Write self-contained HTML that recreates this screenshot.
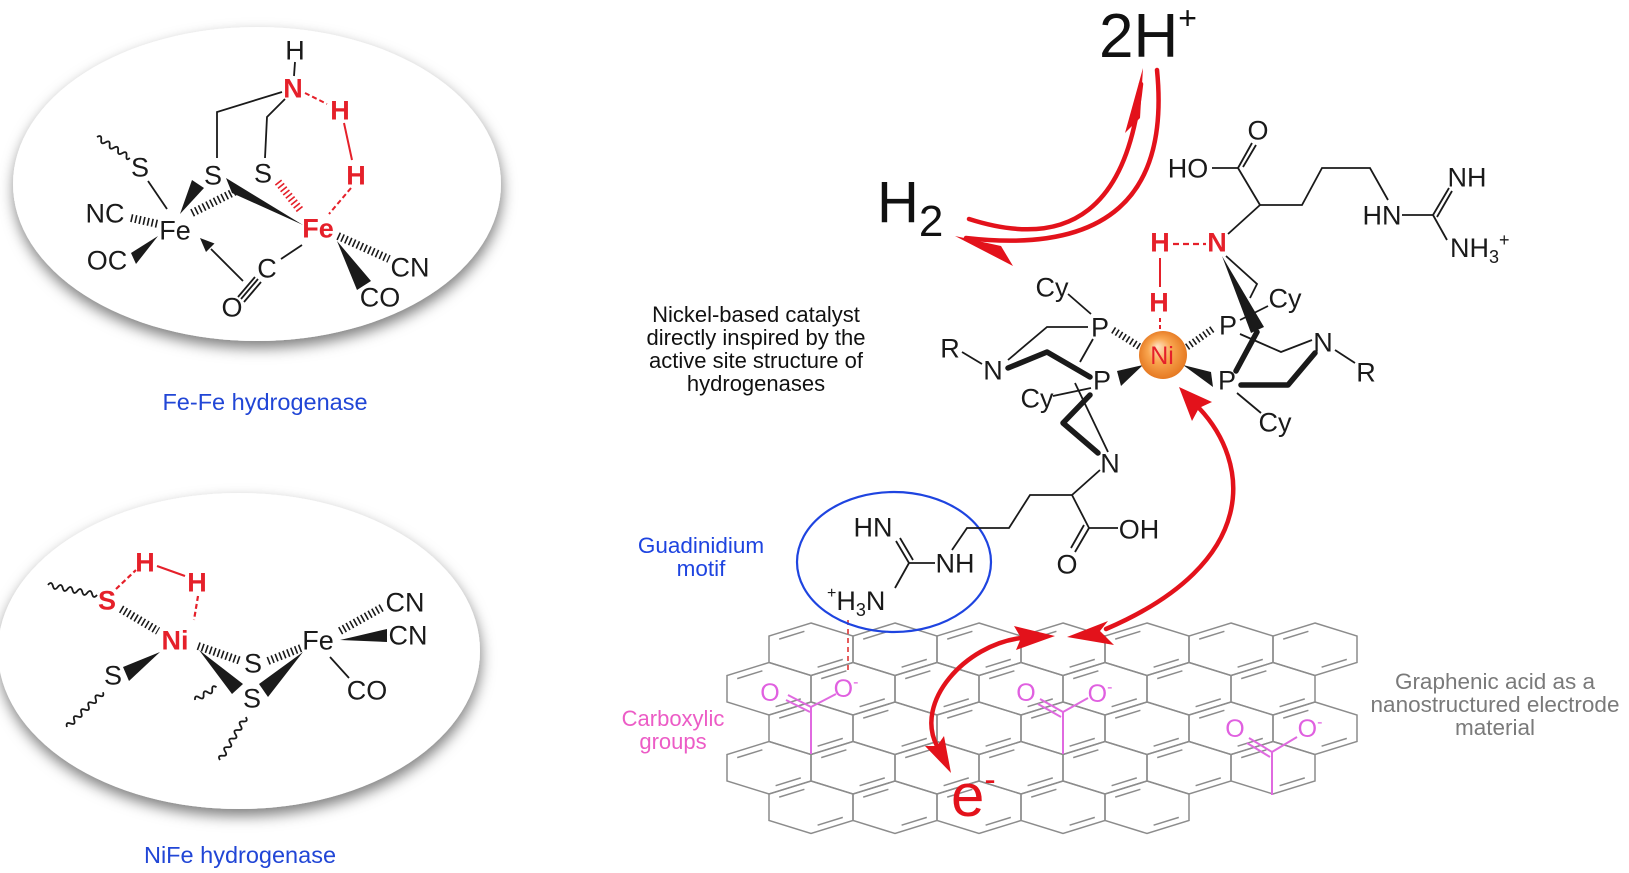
<!DOCTYPE html>
<html><head><meta charset="utf-8">
<style>
html,body{margin:0;padding:0;background:#fff;}
svg{display:block;}
text{font-family:"Liberation Sans",Arial,Helvetica,sans-serif;}
</style></head><body>
<svg width="1629" height="873" viewBox="0 0 1629 873" xmlns="http://www.w3.org/2000/svg">
<defs>
<filter id="sh" x="-15%" y="-15%" width="130%" height="140%">
 <feDropShadow dx="1" dy="7" stdDeviation="7" flood-color="#000" flood-opacity="0.5"/>
</filter>
<radialGradient id="ni" cx="50%" cy="50%" r="55%" fx="38%" fy="32%">
 <stop offset="0" stop-color="#ffe3c4"/>
 <stop offset="0.45" stop-color="#f9a650"/>
 <stop offset="1" stop-color="#e3731c"/>
</radialGradient>
<g id="hx">
 <path d="M0,0 L42,13 L42,39.5 L0,52.5 L-42,39.5 L-42,13 Z"/>
 <path d="M-31.8,16.1 L-6.6,8.3 M6.6,44.2 L31.8,36.4"/>
</g>
</defs>

<!-- Ellipses -->
<ellipse cx="257" cy="184" rx="244" ry="157" fill="#fff" filter="url(#sh)"/>
<ellipse cx="239" cy="651" rx="241" ry="158" fill="#fff" filter="url(#sh)"/>

<!-- ================= Fe-Fe hydrogenase ================= -->
<g stroke="#1a1a1a" stroke-width="1.8" fill="none">
 <line x1="295" y1="62" x2="294" y2="76"/>
 <polyline points="282,92 217,112 217,158"/>
 <polyline points="285,99 267,117 265,158"/>
 <line x1="148" y1="181" x2="167" y2="209"/>
 <line x1="302" y1="245" x2="281" y2="259"/>
 <line x1="243" y1="281" x2="211" y2="249"/>
 <line x1="258" y1="279" x2="241" y2="299"/>
 <line x1="261" y1="282" x2="244" y2="302"/>
 <line x1="255" y1="277" x2="238" y2="297"/>
 <path d="M0,0 q2.5,-5 5,0 t5,0 t5,0 t5,0 t5,0 t5,0 t5,0 t4,0" transform="translate(97,137) rotate(32.5)"/>
 <g stroke-width="8" stroke-dasharray="1.6 2.6">
  <line x1="131" y1="218" x2="158" y2="224"/>
  <line x1="192" y1="213" x2="236" y2="191"/>
  <line x1="338" y1="236" x2="389" y2="259"/>
 </g>
 <line x1="278" y1="182" x2="301" y2="211" stroke="#e5202a" stroke-width="8" stroke-dasharray="1.6 2.6"/>
</g>
<g fill="#1a1a1a">
 <polygon points="200,238 214.5,243.5 206,252"/>
 <polygon points="158,236 131,253 136,264"/>
 <polygon points="180,214 192,180 204,188"/>
 <polygon points="226,178 232,193 303,225"/>
 <polygon points="337,241 357,290 371,281"/>
</g>
<g stroke="#e5202a" stroke-width="2" fill="none">
 <line x1="305" y1="93" x2="327" y2="104" stroke-dasharray="5 3"/>
 <line x1="344" y1="123" x2="352" y2="160"/>
 <line x1="351" y1="188" x2="329" y2="214" stroke-dasharray="5 3"/>
</g>
<g font-size="27" text-anchor="middle" fill="#1a1a1a">
 <text x="295" y="59.5">H</text>
 <text x="140" y="176.5">S</text>
 <text x="213" y="184.5">S</text>
 <text x="263" y="182.5">S</text>
 <text x="175" y="239.5">Fe</text>
 <text x="105" y="222.5">NC</text>
 <text x="107" y="269.5">OC</text>
 <text x="267" y="277.5">C</text>
 <text x="232" y="316.5">O</text>
 <text x="410" y="276.5">CN</text>
 <text x="380" y="306.5">CO</text>
</g>
<g font-size="27" text-anchor="middle" fill="#e5202a" font-weight="bold">
 <text x="293" y="97.5">N</text>
 <text x="340" y="119.5">H</text>
 <text x="356" y="184.5">H</text>
 <text x="318" y="237.5">Fe</text>
</g>
<text x="265" y="410" font-size="23.5" text-anchor="middle" fill="#2146d6">Fe-Fe hydrogenase</text>

<!-- ================= NiFe hydrogenase ================= -->
<g stroke="#1a1a1a" stroke-width="1.8" fill="none">
 <path d="M0,0 q2.5,-5 5,0 t5,0 t5,0 t5,0 t5,0 t5,0 t5,0 t5,0 t5,0 t5,0" transform="translate(48,585) rotate(11.5)"/>
 <path d="M0,0 q2.5,-5 5,0 t5,0 t5,0 t5,0 t5,0 t5,0 t5,0 t5,0 t5,0 t5,0" transform="translate(67,727) rotate(-44)"/>
 <path d="M0,0 q2.5,-5 5,0 t5,0 t5,0 t5,0 t5,0" transform="translate(195,700) rotate(-30.6)"/>
 <path d="M0,0 q2.5,-5 5,0 t5,0 t5,0 t5,0 t5,0 t5,0 t5,0 t5,0 t5,0 t5,0" transform="translate(220,760) rotate(-59)"/>
 <line x1="330" y1="657" x2="349" y2="678"/>
 <g stroke-width="8" stroke-dasharray="1.6 2.6">
  <line x1="121" y1="609" x2="158" y2="631"/>
  <line x1="198" y1="646" x2="241" y2="661"/>
  <line x1="268" y1="661" x2="301" y2="648"/>
  <line x1="340" y1="631" x2="383" y2="607"/>
 </g>
</g>
<g fill="#1a1a1a">
 <polygon points="123,667 129,681 160,652"/>
 <polygon points="199,650 232,694 243,684"/>
 <polygon points="259,684 268,697 303,652"/>
 <polygon points="340,640 387,629 387,642"/>
</g>
<g stroke="#e5202a" stroke-width="2.2" fill="none">
 <line x1="157" y1="566" x2="185" y2="576"/>
 <line x1="116" y1="589" x2="136" y2="570" stroke-dasharray="5 3"/>
 <line x1="198" y1="596" x2="194" y2="620" stroke-dasharray="5 3"/>
</g>
<g font-size="27" text-anchor="middle" fill="#1a1a1a">
 <text x="113" y="684.5">S</text>
 <text x="253" y="672.5">S</text>
 <text x="252" y="707.5">S</text>
 <text x="318" y="649.5">Fe</text>
 <text x="405" y="611.5">CN</text>
 <text x="408" y="644.5">CN</text>
 <text x="367" y="699.5">CO</text>
</g>
<g font-size="27" text-anchor="middle" fill="#e5202a" font-weight="bold">
 <text x="145" y="571.5">H</text>
 <text x="197" y="591.5">H</text>
 <text x="107" y="609.5">S</text>
 <text x="175" y="649.5">Ni</text>
</g>
<text x="240" y="863" font-size="23.5" text-anchor="middle" fill="#2146d6">NiFe hydrogenase</text>

<!-- ================= Graphene ================= -->
<g stroke="#8c8c8c" stroke-width="1.5" fill="none">
 <use href="#hx" x="811" y="623"/><use href="#hx" x="895" y="623"/><use href="#hx" x="979" y="623"/><use href="#hx" x="1063" y="623"/><use href="#hx" x="1147" y="623"/><use href="#hx" x="1231" y="623"/><use href="#hx" x="1315" y="623"/>
 <use href="#hx" x="769" y="662.5"/><use href="#hx" x="853" y="662.5"/><use href="#hx" x="937" y="662.5"/><use href="#hx" x="1021" y="662.5"/><use href="#hx" x="1105" y="662.5"/><use href="#hx" x="1189" y="662.5"/><use href="#hx" x="1273" y="662.5"/>
 <use href="#hx" x="811" y="702"/><use href="#hx" x="895" y="702"/><use href="#hx" x="979" y="702"/><use href="#hx" x="1063" y="702"/><use href="#hx" x="1147" y="702"/><use href="#hx" x="1231" y="702"/><use href="#hx" x="1315" y="702"/>
 <use href="#hx" x="769" y="741.5"/><use href="#hx" x="853" y="741.5"/><use href="#hx" x="937" y="741.5"/><use href="#hx" x="1021" y="741.5"/><use href="#hx" x="1105" y="741.5"/><use href="#hx" x="1189" y="741.5"/><use href="#hx" x="1273" y="741.5"/>
 <use href="#hx" x="811" y="781"/><use href="#hx" x="895" y="781"/><use href="#hx" x="979" y="781"/><use href="#hx" x="1063" y="781"/><use href="#hx" x="1147" y="781"/>
</g>

<!-- Carboxylates -->
<g stroke="#e06ae0" stroke-width="2" fill="none">
 <line x1="811" y1="707" x2="811" y2="754"/>
 <line x1="811" y1="707" x2="836" y2="694"/>
 <line x1="811" y1="707" x2="788" y2="695"/>
 <line x1="810" y1="712" x2="786" y2="700"/>
 <line x1="1063" y1="712" x2="1063" y2="754"/>
 <line x1="1063" y1="712" x2="1088" y2="698"/>
 <line x1="1063" y1="712" x2="1040" y2="699"/>
 <line x1="1061" y1="717" x2="1038" y2="704"/>
 <line x1="1272" y1="752" x2="1272" y2="795"/>
 <line x1="1272" y1="752" x2="1297" y2="737"/>
 <line x1="1272" y1="752" x2="1249" y2="738"/>
 <line x1="1270" y1="757" x2="1247" y2="743"/>
</g>
<g font-size="25" text-anchor="middle" fill="#e060e0">
 <text x="770" y="701">O</text>
 <text x="846" y="697">O<tspan font-size="16" dy="-10">-</tspan></text>
 <text x="1026" y="701">O</text>
 <text x="1100" y="702">O<tspan font-size="16" dy="-10">-</tspan></text>
 <text x="1235" y="737">O</text>
 <text x="1310" y="737">O<tspan font-size="16" dy="-10">-</tspan></text>
</g>
<line x1="848" y1="620" x2="848" y2="672" stroke="#e34a4a" stroke-width="1.8" stroke-dasharray="5 4"/>

<!-- Blue circle -->
<ellipse cx="894" cy="562" rx="97" ry="70" fill="none" stroke="#1e44e0" stroke-width="2.2"/>

<!-- ================= Catalyst ================= -->
<g stroke="#1a1a1a" stroke-width="1.8" fill="none">
 <line x1="1228" y1="234" x2="1260" y2="205"/>
 <line x1="1260" y1="205" x2="1238" y2="168"/>
 <line x1="1212" y1="168" x2="1238" y2="168"/>
 <line x1="1238" y1="168" x2="1252" y2="143"/>
 <line x1="1243" y1="167" x2="1256" y2="145"/>
 <polyline points="1260,205 1302,205 1322,168 1370,168 1388,200"/>
 <line x1="1402" y1="215" x2="1433" y2="215"/>
 <line x1="1433" y1="215" x2="1449" y2="188"/>
 <line x1="1437" y1="217" x2="1452" y2="191"/>
 <line x1="1433" y1="215" x2="1447" y2="240"/>
 <line x1="1068" y1="294" x2="1091" y2="314"/>
 <polyline points="1088,327 1047,327 1008,360"/>
 <line x1="1093" y1="339" x2="1080" y2="362"/>
 <line x1="1075" y1="383" x2="1108" y2="452"/>
 <line x1="962" y1="352" x2="982" y2="364"/>
 <line x1="1053" y1="396" x2="1091" y2="388"/>
 <line x1="1240" y1="320" x2="1268" y2="306"/>
 <polyline points="1226,256 1257,284 1250,298"/>
 <polyline points="1240,334 1281,352 1312,340"/>
 <line x1="1335" y1="350" x2="1355" y2="363"/>
 <line x1="1237" y1="393" x2="1261" y2="413"/>
 <polyline points="1100,470 1072,495 1030,495 1009,528 967,528 952,550"/>
 <line x1="1072" y1="495" x2="1089" y2="528"/>
 <line x1="1089" y1="528" x2="1118" y2="528"/>
 <line x1="1089" y1="528" x2="1075" y2="552"/>
 <line x1="1084" y1="525" x2="1071" y2="548"/>
 <line x1="909" y1="563" x2="935" y2="563"/>
 <line x1="909" y1="563" x2="896" y2="541"/>
 <line x1="913" y1="560" x2="900" y2="538"/>
 <line x1="909" y1="563" x2="895" y2="588"/>
 <g stroke-width="7" stroke-dasharray="1.6 2.6">
  <line x1="1113" y1="330" x2="1140" y2="347"/>
  <line x1="1187" y1="347" x2="1214" y2="328"/>
 </g>
 <g stroke-width="5.5" stroke-linejoin="round" stroke-linecap="round">
  <polyline points="1008,368 1047,352 1090,377"/>
  <polyline points="1090,395 1063,423 1098,453"/>
  <polyline points="1257,332 1236,371"/>
  <polyline points="1241,385 1288,385 1315,353"/>
 </g>
</g>
<g fill="#1a1a1a">
 <polygon points="1222,256 1251,333 1264,327"/>
 <polygon points="1117,371 1121,386 1143,365"/>
 <polygon points="1183,365 1211,372 1213,387"/>
</g>
<g stroke="#e5202a" fill="none">
 <line x1="1173" y1="244" x2="1206" y2="244" stroke-width="2.2" stroke-dasharray="6 4"/>
 <line x1="1160" y1="258" x2="1160" y2="287" stroke-width="2"/>
 <line x1="1160" y1="318" x2="1160" y2="333" stroke-width="2" stroke-dasharray="4 3"/>
</g>
<circle cx="1163" cy="355" r="24" fill="url(#ni)"/>
<text x="1162" y="364" font-size="25" text-anchor="middle" fill="#e5202a">Ni</text>
<g font-size="27" text-anchor="middle" fill="#1a1a1a">
 <text x="1188" y="177.5">HO</text>
 <text x="1258" y="139.5">O</text>
 <text x="1382" y="224.5">HN</text>
 <text x="1467" y="186.5">NH</text>
 <text x="1052" y="296.5">Cy</text>
 <text x="1100" y="336.5">P</text>
 <text x="950" y="357.5">R</text>
 <text x="993" y="379.5">N</text>
 <text x="1102" y="389.5">P</text>
 <text x="1037" y="407.5">Cy</text>
 <text x="1228" y="334.5">P</text>
 <text x="1285" y="307.5">Cy</text>
 <text x="1323" y="351.5">N</text>
 <text x="1366" y="381.5">R</text>
 <text x="1227" y="389.5">P</text>
 <text x="1275" y="431.5">Cy</text>
 <text x="1110" y="472.5">N</text>
 <text x="1139" y="538.5">OH</text>
 <text x="1067" y="573.5">O</text>
 <text x="955" y="572.5">NH</text>
 <text x="873" y="536.5">HN</text>
</g>
<text x="1450" y="257" font-size="27" fill="#1a1a1a">NH<tspan font-size="18" dy="6">3</tspan><tspan font-size="18" dy="-17">+</tspan></text>
<text x="827" y="610" font-size="27" fill="#1a1a1a"><tspan font-size="16" dy="-12">+</tspan><tspan dy="12">H</tspan><tspan font-size="18" dy="6">3</tspan><tspan dy="-6">N</tspan></text>
<g font-size="27" text-anchor="middle" fill="#e5202a" font-weight="bold">
 <text x="1217" y="251.5">N</text>
 <text x="1160" y="251.5">H</text>
 <text x="1159" y="311.5">H</text>
</g>

<!-- ================= Big labels ================= -->
<text x="1099" y="57" font-size="62" fill="#111">2H<tspan font-size="32" dy="-28">+</tspan></text>
<text x="877" y="222" font-size="58" fill="#111">H<tspan font-size="44" dy="14">2</tspan></text>

<!-- ================= Red arrows ================= -->
<g stroke="#e3121b" stroke-width="4.5" fill="none" stroke-linecap="round">
 <path d="M969,219 Q1122,268 1141,84"/>
 <path d="M1157,70 Q1176,262 966,238"/>
 <path d="M1199,408 C1250,462 1262,562 1106,629"/>
 <path d="M1021,638 C965,645 914,702 937,746"/>
</g>
<g fill="#e3121b">
 <polygon points="1143,68 1125,133 1140,118"/>
 <polygon points="955,236 1013,266 1001,246"/>
 <polygon points="1179,387 1212,402 1199,408 1192,421"/>
 <polygon points="1067,637 1108,621 1100,631 1114,645"/>
 <polygon points="1055,636 1014,626 1021,638 1016,650"/>
 <polygon points="951,773 944,736 937,746 925,746"/>
</g>
<text x="951" y="816" font-size="60" fill="#e3121b">e<tspan font-size="34" dy="-25">-</tspan></text>

<!-- ================= Captions ================= -->
<g font-size="22" text-anchor="middle" fill="#111">
 <text x="756" y="322">Nickel-based catalyst</text>
 <text x="756" y="345">directly inspired by the</text>
 <text x="756" y="368">active site structure of</text>
 <text x="756" y="391">hydrogenases</text>
</g>
<g font-size="22.5" text-anchor="middle" fill="#1e44e0">
 <text x="701" y="553">Guadinidium</text>
 <text x="701" y="576">motif</text>
</g>
<g font-size="22" text-anchor="middle" fill="#ec5cc6">
 <text x="673" y="726">Carboxylic</text>
 <text x="673" y="749">groups</text>
</g>
<g font-size="22.5" text-anchor="middle" fill="#7a7a7a">
 <text x="1495" y="689">Graphenic acid as a</text>
 <text x="1495" y="712">nanostructured electrode</text>
 <text x="1495" y="735">material</text>
</g>
</svg>
</body></html>
